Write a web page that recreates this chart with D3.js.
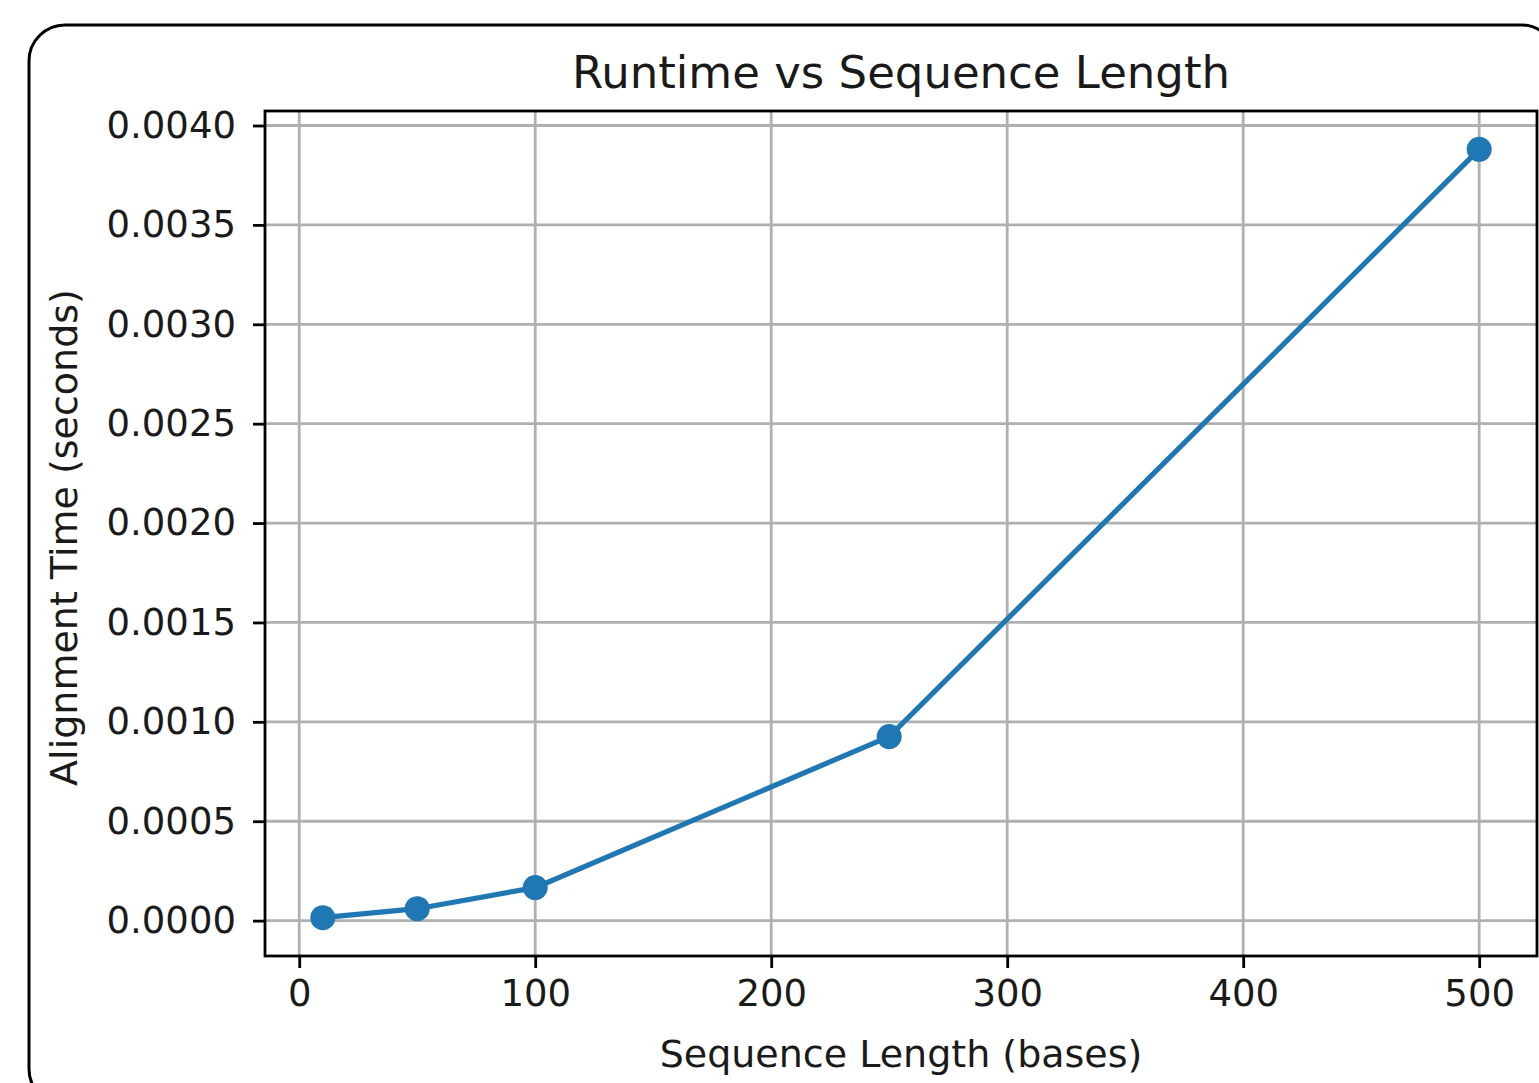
<!DOCTYPE html>
<html>
<head>
<meta charset="utf-8">
<script src="https://cdn.jsdelivr.net/npm/d3@7"></script>
<style>
  body { margin: 0; background: #fff; }
  svg { display: block; }
  svg text { font-family: "DejaVu Sans", sans-serif; fill: #1a1a1a; }
</style>
</head>
<body>
<svg width="1539" height="1083"></svg>
<script>
// data
const seqLength = [10, 50, 100, 250, 500];
const alignTime = [0.000015, 0.00006, 0.000166, 0.000926, 0.00388];
const xTicks = [0, 100, 200, 300, 400, 500];
const yTicks = [0, 0.0005, 0.001, 0.0015, 0.002, 0.0025, 0.003, 0.0035, 0.004];

const svg = d3.select("svg"),
    width = +svg.attr("width"),
    height = +svg.attr("height");

const margin = {left: 265, top: 111, right: 2, bottom: 127};
const x0 = margin.left, x1 = width - margin.right;
const y0 = height - margin.bottom, y1 = margin.top;

// outer rounded frame
svg.append("rect")
    .attr("x", 29).attr("y", 25)
    .attr("width", 1528).attr("height", 1080)
    .attr("rx", 36).attr("ry", 36)
    .attr("fill", "none")
    .attr("stroke", "#000")
    .attr("stroke-width", 3);

const x = d3.scaleLinear().domain([-14.5, 524.5]).range([x0, x1]);
const y = d3.scaleLinear().domain([-0.000178, 0.004073]).range([y0, y1]);

// grid
svg.append("g")
    .selectAll("line")
    .data(xTicks)
    .enter().append("line")
    .attr("x1", d => x(d)).attr("x2", d => x(d))
    .attr("y1", y0).attr("y2", y1)
    .attr("stroke", "#b0b0b0")
    .attr("stroke-width", 2.8);

svg.append("g")
    .selectAll("line")
    .data(yTicks)
    .enter().append("line")
    .attr("x1", x0).attr("x2", x1)
    .attr("y1", d => y(d)).attr("y2", d => y(d))
    .attr("stroke", "#b0b0b0")
    .attr("stroke-width", 2.8);

// axes
const xAxis = svg.append("g")
    .attr("transform", `translate(0,${y0})`)
    .call(d3.axisBottom(x).tickValues(xTicks).tickSize(12).tickPadding(12).tickFormat(d3.format("d")));

const yAxis = svg.append("g")
    .attr("transform", `translate(${x0},0)`)
    .call(d3.axisLeft(y).tickValues(yTicks).tickSize(12).tickPadding(17).tickFormat(d3.format(".4f")));

[xAxis, yAxis].forEach(a => {
    a.attr("font-family", null).attr("font-size", null);
    a.select(".domain").remove();
    a.selectAll(".tick line").attr("stroke", "#000").attr("stroke-width", 2.8);
    a.selectAll(".tick text").attr("fill", null).style("font-size", "37px");
});

// frame of the axes
svg.append("rect")
    .attr("x", x0).attr("y", y1)
    .attr("width", x1 - x0).attr("height", y0 - y1)
    .attr("fill", "none")
    .attr("stroke", "#000")
    .attr("stroke-width", 2.8);

// series
const pts = seqLength.map((d, i) => ({x: d, y: alignTime[i]}));

svg.append("path")
    .datum(pts)
    .attr("fill", "none")
    .attr("stroke", "#1f77b4")
    .attr("stroke-width", 5.2)
    .attr("d", d3.line().x(d => x(d.x)).y(d => y(d.y)));

svg.append("g")
    .selectAll("circle")
    .data(pts)
    .enter().append("circle")
    .attr("cx", d => x(d.x))
    .attr("cy", d => y(d.y))
    .attr("r", 12.5)
    .attr("fill", "#1f77b4");

// labels
svg.append("text")
    .attr("x", (x0 + x1) / 2).attr("y", 88)
    .attr("text-anchor", "middle")
    .style("font-size", "45px")
    .text("Runtime vs Sequence Length");

svg.append("text")
    .attr("x", (x0 + x1) / 2).attr("y", 1067)
    .attr("text-anchor", "middle")
    .style("font-size", "38px")
    .text("Sequence Length (bases)");

svg.append("text")
    .attr("transform", `translate(77,${(y0 + y1) / 2 + 4}) rotate(-90)`)
    .attr("text-anchor", "middle")
    .style("font-size", "38px")
    .text("Alignment Time (seconds)");
</script>
</body>
</html>
